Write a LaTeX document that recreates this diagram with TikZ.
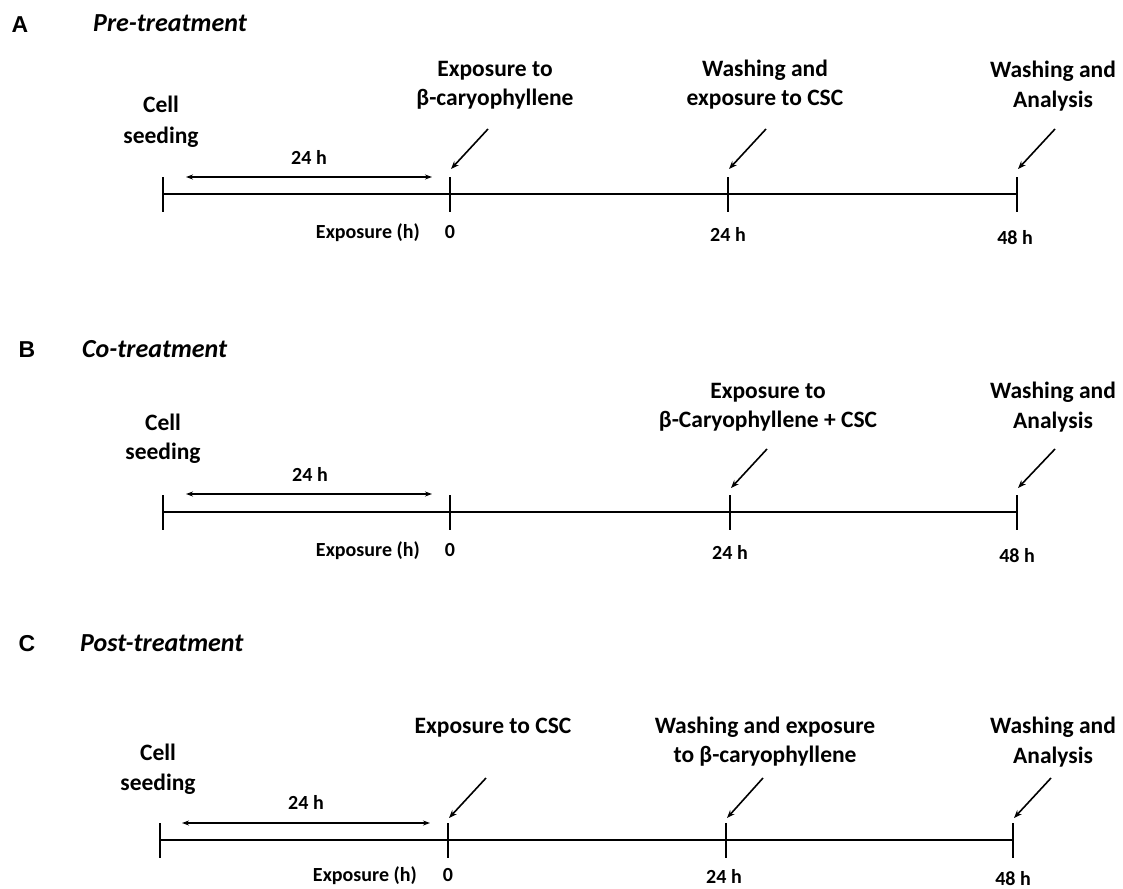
\documentclass[tikz,border=0pt]{standalone}
\usepackage{fontspec}
\setmainfont{Carlito}
\newfontfamily\panelfont{Liberation Sans}
\usetikzlibrary{arrows.meta}
\begin{document}
\begin{tikzpicture}[x=1pt,y=-1pt,
  lbl/.style={font=\fontsize{23.5}{28}\selectfont\bfseries, inner sep=0pt, anchor=base},
  sml/.style={font=\fontsize{20}{24}\selectfont\bfseries, inner sep=0pt, anchor=base},
  ttl/.style={font=\fontsize{26}{30}\selectfont\bfseries\itshape, inner sep=0pt, anchor=base west},
  pnl/.style={font=\panelfont\fontsize{23}{26}\selectfont\bfseries, inner sep=0pt, anchor=base},
  tl/.style={line width=2.3pt},
  dbl/.style={line width=1.3pt, {Stealth[length=7pt,width=5pt]}-{Stealth[length=7pt,width=5pt]}},
  ev/.style={line width=1.6pt, -{Stealth[length=8pt,width=6pt]}}]
\useasboundingbox (0,0) rectangle (1123,888);

% ---------------- Panel A ----------------
\begin{scope}[shift={(0,194)}]
  \coordinate (As) at (162.7,0); \coordinate (A0) at (450,0);
  \coordinate (A24) at (728,0); \coordinate (A48) at (1017,0);
  \draw[tl] (As) -- (A48);
  \foreach \c in {As,A0,A24,A48} \draw[tl] ([shift={(0,-17)}]\c) -- ([shift={(0,18)}]\c);
  \node[pnl] (Alet) at (20,-161) {A};
  \node[ttl] (Attl) at (93,-162) {Pre-treatment};
  \node[lbl] (Acell1) at (161,-81) {Cell};
  \node[lbl] (Acell2) at (161,-51) {seeding};
  \node[sml] (Adur) at (309,-30) {24 h};
  \coordinate (Ad1) at (186,-17); \coordinate (Ad2) at (432,-17);
  \draw[dbl] (Ad1) -- (Ad2);
  \node[lbl] (Ae1a) at (495,-117) {Exposure to};
  \node[lbl] (Ae1b) at (495,-88) {β-caryophyllene};
  \node[lbl] (Ae2a) at (765,-117) {Washing and};
  \node[lbl] (Ae2b) at (765,-88) {exposure to CSC};
  \node[lbl] (Ae3a) at (1053,-116) {Washing and};
  \node[lbl] (Ae3b) at (1053,-86) {Analysis};
  \coordinate (Aa1) at (488,-65); \draw[ev] (Aa1) -- ([shift={(1,-25)}]A0);
  \coordinate (Aa2) at (766,-65); \draw[ev] (Aa2) -- ([shift={(1,-25)}]A24);
  \coordinate (Aa3) at (1055,-65); \draw[ev] (Aa3) -- ([shift={(1,-25)}]A48);
  \node[sml, anchor=base east] (Aexp) at (420,44) {Exposure (h)};
  \node[sml] (Al0) at (450,44) {0};
  \node[sml] (Al24) at (728,47) {24 h};
  \node[sml] (Al48) at (1015,50) {48 h};
\end{scope}

% ---------------- Panel B ----------------
\begin{scope}[shift={(0,512)}]
  \coordinate (Bs) at (163,0); \coordinate (B0) at (450,0);
  \coordinate (B24) at (730,0); \coordinate (B48) at (1017,0);
  \draw[tl] (Bs) -- (B48);
  \foreach \c in {Bs,B0,B24,B48} \draw[tl] ([shift={(0,-17)}]\c) -- ([shift={(0,18)}]\c);
  \node[pnl] (Blet) at (27,-155) {B};
  \node[ttl] (Bttl) at (82,-155) {Co-treatment};
  \node[lbl] (Bcell1) at (163,-82) {Cell};
  \node[lbl] (Bcell2) at (163,-53) {seeding};
  \node[sml] (Bdur) at (310,-31) {24 h};
  \coordinate (Bd1) at (186,-18); \coordinate (Bd2) at (432,-18);
  \draw[dbl] (Bd1) -- (Bd2);
  \node[lbl] (Be1a) at (768,-114) {Exposure to};
  \node[lbl] (Be1b) at (768,-85) {β-Caryophyllene + CSC};
  \node[lbl] (Be2a) at (1053,-114) {Washing and};
  \node[lbl] (Be2b) at (1053,-84) {Analysis};
  \coordinate (Ba1) at (767,-63); \draw[ev] (Ba1) -- ([shift={(1,-24)}]B24);
  \coordinate (Ba2) at (1055,-63); \draw[ev] (Ba2) -- ([shift={(1,-24)}]B48);
  \node[sml, anchor=base east] (Bexp) at (420,44) {Exposure (h)};
  \node[sml] (Bl0) at (450,44) {0};
  \node[sml] (Bl24) at (730,47) {24 h};
  \node[sml] (Bl48) at (1017,50) {48 h};
\end{scope}

% ---------------- Panel C ----------------
\begin{scope}[shift={(0,840)}]
  \coordinate (Cs) at (160,0); \coordinate (C0) at (448,0);
  \coordinate (C24) at (726,0); \coordinate (C48) at (1013,0);
  \draw[tl] (Cs) -- (C48);
  \foreach \c in {Cs,C0,C24,C48} \draw[tl] ([shift={(0,-17)}]\c) -- ([shift={(0,18)}]\c);
  \node[pnl] (Clet) at (27,-189) {C};
  \node[ttl] (Cttl) at (80,-189) {Post-treatment};
  \node[lbl] (Ccell1) at (158,-80) {Cell};
  \node[lbl] (Ccell2) at (158,-50) {seeding};
  \node[sml] (Cdur) at (306,-31) {24 h};
  \coordinate (Cd1) at (182,-17); \coordinate (Cd2) at (430,-17);
  \draw[dbl] (Cd1) -- (Cd2);
  \node[lbl] (Ce1) at (493,-107) {Exposure to CSC};
  \node[lbl] (Ce2a) at (765,-107) {Washing and exposure};
  \node[lbl] (Ce2b) at (765,-78) {to β-caryophyllene};
  \node[lbl] (Ce3a) at (1053,-107) {Washing and};
  \node[lbl] (Ce3b) at (1053,-77) {Analysis};
  \coordinate (Ca1) at (486,-62); \draw[ev] (Ca1) -- ([shift={(1,-22)}]C0);
  \coordinate (Ca2) at (763,-62); \draw[ev] (Ca2) -- ([shift={(1,-22)}]C24);
  \coordinate (Ca3) at (1051,-62); \draw[ev] (Ca3) -- ([shift={(1,-22)}]C48);
  \node[sml, anchor=base east] (Cexp) at (417,41) {Exposure (h)};
  \node[sml] (Cl0) at (448,41) {0};
  \node[sml] (Cl24) at (724,43) {24 h};
  \node[sml] (Cl48) at (1013,45) {48 h};
\end{scope}
\end{tikzpicture}
\end{document}
